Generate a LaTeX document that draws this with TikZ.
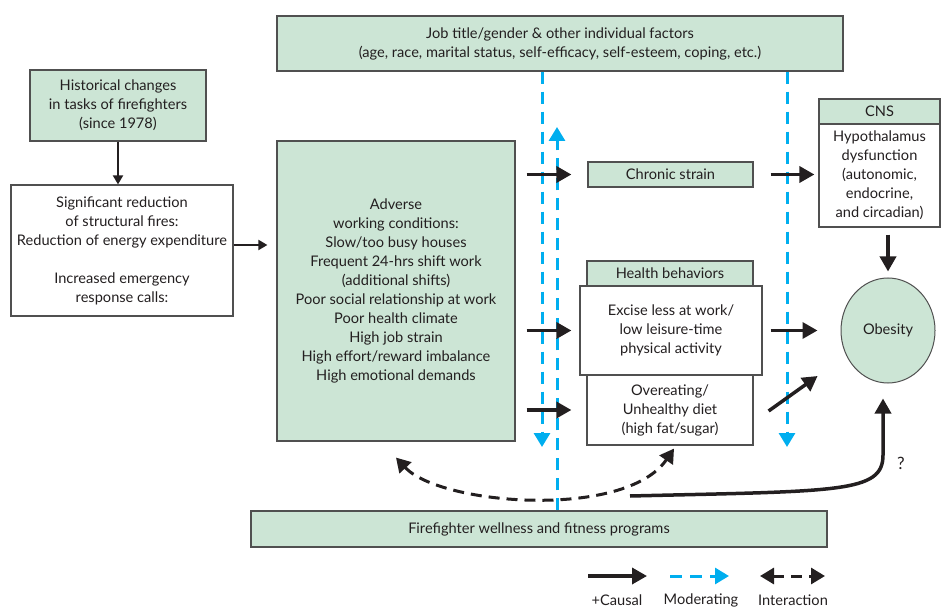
\documentclass[tikz,border=0pt]{standalone}
\usepackage{fontspec}
\setmainfont{Lato}
\usepackage{tikz}
\usetikzlibrary{arrows.meta,shapes.geometric}
\definecolor{gr}{HTML}{CCE5D5}
\definecolor{bd}{HTML}{505050}
\definecolor{cy}{HTML}{00AEEF}
\definecolor{bk}{HTML}{231F20}

\begin{document}
\begin{tikzpicture}[x=1pt,y=-1pt]
            \tikzstyle{every node}=[font=\fontsize{14.6}{19}\selectfont,align=center,inner sep=0pt,text=bk]
            \tikzstyle{box}=[draw=bd,line width=1.2pt,fill=gr]
            \tikzstyle{wbox}=[draw=bd,line width=1.2pt,fill=white]
            \tikzstyle{causal}=[draw=bk,line width=3.5pt,-{Triangle[length=15pt,width=16pt]}]
            \tikzstyle{lead}=[draw=bk,line width=2pt,-{Triangle[length=9pt,width=10pt]}]
            \tikzstyle{moder}=[draw=cy,line width=3pt,dash pattern=on 12pt off 8pt,-{Triangle[length=14pt,width=16pt]}]
            \tikzstyle{inter}=[draw=bk,line width=3pt,dash pattern=on 11pt off 7pt,{Triangle[length=14pt,width=16pt]}-{Triangle[length=14pt,width=16pt]}]
            \useasboundingbox (0,0) rectangle (941,609);
            \node[box,minimum width=566pt,minimum height=55pt] (job) at (560,43.5) {Job title/gender \& other individual factors\\(age, race, marital status, self-efficacy, self-esteem, coping, etc.)};
            \node[box,minimum width=176pt,minimum height=71pt] (hist) at (118,105.5) {Historical changes\\in tasks of firefighters\\(since 1978)};
            \node[wbox,minimum width=222pt,minimum height=131pt] (sig) at (122,250.5) {Significant reduction\\of structural fires:\\Reduction of energy expenditure\\[19pt]Increased emergency\\response calls:};
            \node[box,minimum width=238pt,minimum height=300pt] (adv) at (396,291) {Adverse\\working conditions:\\Slow/too busy houses\\Frequent 24-hrs shift work\\(additional shifts)\\Poor social relationship at work\\Poor health climate\\High job strain\\High effort/reward imbalance\\High emotional demands};
            \node[box,minimum width=165pt,minimum height=25pt] (chronic) at (670.5,174.5) {Chronic strain};
            \node[box,minimum width=121pt,minimum height=25pt] (cns) at (879.5,111.5) {CNS};
            \node[wbox,minimum width=121pt,minimum height=103pt] (hypo) at (879.5,175.5) {Hypothalamus\\dysfunction\\(autonomic,\\endocrine,\\and circadian)};
            \node[box,minimum width=166pt,minimum height=25pt] (hb) at (670,273.5) {Health behaviors};
            \node[wbox,minimum width=166pt,minimum height=70pt] (overeat) at (670,410) {Overeating/\\Unhealthy diet\\(high fat/sugar)};
            \node[wbox,minimum width=182pt,minimum height=89pt] (excise) at (671,330.5) {Excise less at work/\\low leisure-time\\physical activity};
            \node[box,ellipse,line width=1pt,minimum width=94pt,minimum height=105pt] (obesity) at (888,330.5) {Obesity};
            \node[box,minimum width=576pt,minimum height=36pt] (prog) at (539,529) {Firefighter wellness and fitness programs};
            \draw[inter] ([yshift=-16pt]adv.south) .. controls (440,505) and (625,520) .. ([xshift=4pt,yshift=-3pt]overeat.south);
            \coordinate (m1) at (542,447);
            \coordinate (m2) at (557,127);
            \coordinate (m3) at (787,447);
            \draw[moder] (m1 |- job.south) -- (m1);
            \draw[moder] (m2 |- prog.north) -- (m2);
            \draw[moder] (m3 |- job.south) -- (m3);
            \draw[lead] (hist.south) -- (hist.south |- sig.north);
            \draw[lead,shorten >=9pt] (sig.east |- 0,245) -- (adv.west |- 0,245);
            \draw[causal,shorten <=11pt,shorten >=16pt] (adv.east |- chronic) -- (chronic);
            \draw[causal,shorten <=11pt,shorten >=8pt] (adv.east |- excise) -- (excise);
            \draw[causal,shorten <=11pt,shorten >=15pt] (adv.east |- overeat) -- (overeat);
            \draw[causal,shorten <=17pt,shorten >=4pt] (chronic) -- (hypo.west |- chronic);
            \draw[causal,shorten <=7pt,shorten >=6pt] (obesity.north |- hypo.south) -- (obesity.north);
            \draw[causal,shorten <=8pt,shorten >=23pt] (excise) -- (obesity.west |- excise);
            \draw[causal] ([xshift=15pt,yshift=-1pt]overeat.east) -- ++(49,-35);
            \coordinate (q) at (630,496);
            \draw[causal] (q) .. controls (840,491) and (883,493) .. (883,455) -- ([xshift=-5pt,yshift=-15pt]obesity.south);
            \node[font=\fontsize{17}{19}\selectfont] (qm) at (901,463) {?};
            \coordinate (l1) at (588,576);
            \coordinate (l2) at (670,576);
            \coordinate (l3) at (760,576);
            \draw[causal] (l1) -- ++(59,0);
            \draw[moder] (l2) -- ++(59,0);
            \draw[inter] (l3) -- ++(65,0);
            \node (lc) at (617,600) {+Causal};
            \node (lm) at (701,600) {Moderating};
            \node (li) at (793,600) {Interaction};
\end{tikzpicture}
\end{document}
